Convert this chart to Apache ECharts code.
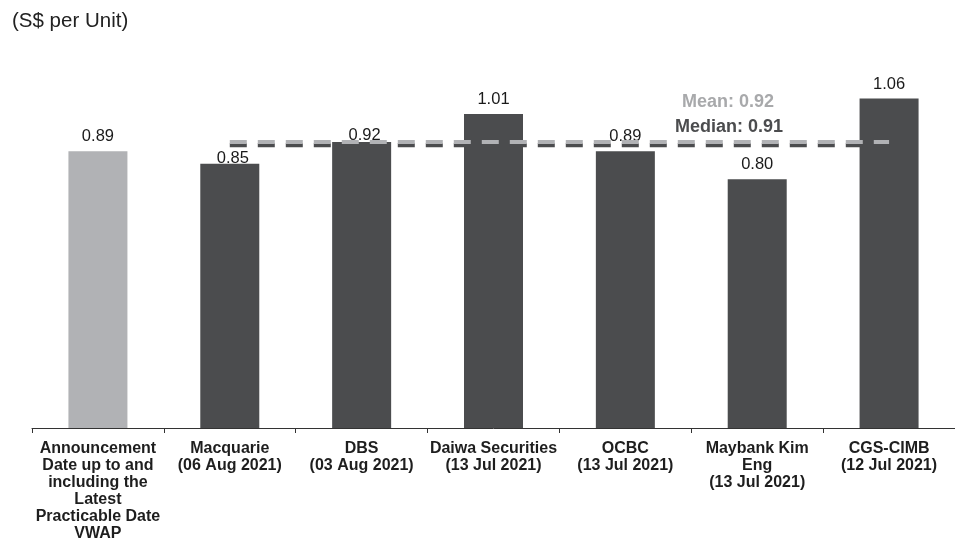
<!DOCTYPE html>
<html>
<head>
<meta charset="utf-8">
<style>
  html, body { margin: 0; padding: 0; background: #ffffff; }
  #chart { width: 955px; height: 549px; }
</style>
<script src="https://cdn.jsdelivr.net/npm/echarts@6/dist/echarts.min.js"></script>
</head>
<body>
<div id="chart"></div>
<script>
const categories = [
  'Announcement\nDate up to and\nincluding the\nLatest\nPracticable Date\nVWAP',
  'Macquarie\n(06 Aug 2021)',
  'DBS\n(03 Aug 2021)',
  'Daiwa Securities\n(13 Jul 2021)',
  'OCBC\n(13 Jul 2021)',
  'Maybank Kim\nEng\n(13 Jul 2021)',
  'CGS-CIMB\n(12 Jul 2021)'
];
const values = [0.89, 0.85, 0.92, 1.01, 0.89, 0.80, 1.06];
const meanValue = 0.92;
const medianValue = 0.91;
const meanLine = [null, 0.92, 0.92, 0.92, 0.92, 0.92, 0.92];
const medianLine = [null, 0.91, 0.91, 0.91, 0.91, 0.91, 0.91];

const FONT = '"Liberation Sans", Arial, Helvetica, sans-serif';
const GRAY = '#b1b2b5';
const DARK = '#4b4c4e';
// labels nudged down toward bar top in the reference (indices 1 and 2)
const loweredLabels = { 1: 9, 2: 8 };

const chart = echarts.init(document.getElementById('chart'));
chart.setOption({
  animation: false,
  textStyle: { fontFamily: FONT },
  grid: { left: 32, width: 926, top: 55, bottom: 121 },
  xAxis: {
    type: 'category',
    data: categories,
    axisLine: { lineStyle: { color: '#333333', width: 1 } },
    axisTick: { show: true, length: 5, lineStyle: { color: '#333333' } },
    axisLabel: {
      interval: 0,
      color: '#1e1e1e',
      fontWeight: 'bold',
      fontSize: 16,
      lineHeight: 17,
      margin: 12,
      fontFamily: FONT
    }
  },
  yAxis: {
    type: 'value',
    min: 0,
    max: 1.2,
    show: false,
    splitLine: { show: false }
  },
  series: [
    {
      type: 'bar',
      data: values.map((v, i) => {
        const d = { value: v, itemStyle: { color: i === 0 ? GRAY : DARK } };
        if (loweredLabels[i]) d.label = { offset: [3, loweredLabels[i]] };
        return d;
      }),
      barWidth: 59,
      z: 2,
      label: {
        show: true,
        position: 'top',
        distance: 6,
        color: '#1a1a1a',
        fontSize: 16.5,
        fontFamily: FONT,
        formatter: p => p.value.toFixed(2)
      }
    },
    {
      type: 'line',
      data: medianLine,
      symbol: 'none',
      z: 5,
      lineStyle: { color: DARK, width: 4, type: [17, 11], cap: 'butt' }
    },
    {
      type: 'line',
      data: meanLine,
      symbol: 'none',
      z: 6,
      lineStyle: { color: GRAY, width: 4, type: [17, 11], cap: 'butt' }
    }
  ],
  graphic: [
    {
      type: 'text', left: 12, top: 11,
      style: { text: '(S$ per Unit)', fontSize: 20.5, fill: '#222222', fontFamily: FONT }
    },
    {
      type: 'text', x: 728, y: 102,
      style: { text: 'Mean: ' + meanValue.toFixed(2), fontSize: 18, fontWeight: 'bold', fill: '#a8a9ab', fontFamily: FONT, align: 'center', verticalAlign: 'middle' }
    },
    {
      type: 'text', x: 729, y: 127,
      style: { text: 'Median: ' + medianValue.toFixed(2), fontSize: 18, fontWeight: 'bold', fill: DARK, fontFamily: FONT, align: 'center', verticalAlign: 'middle' }
    }
  ]
});
</script>
</body>
</html>
